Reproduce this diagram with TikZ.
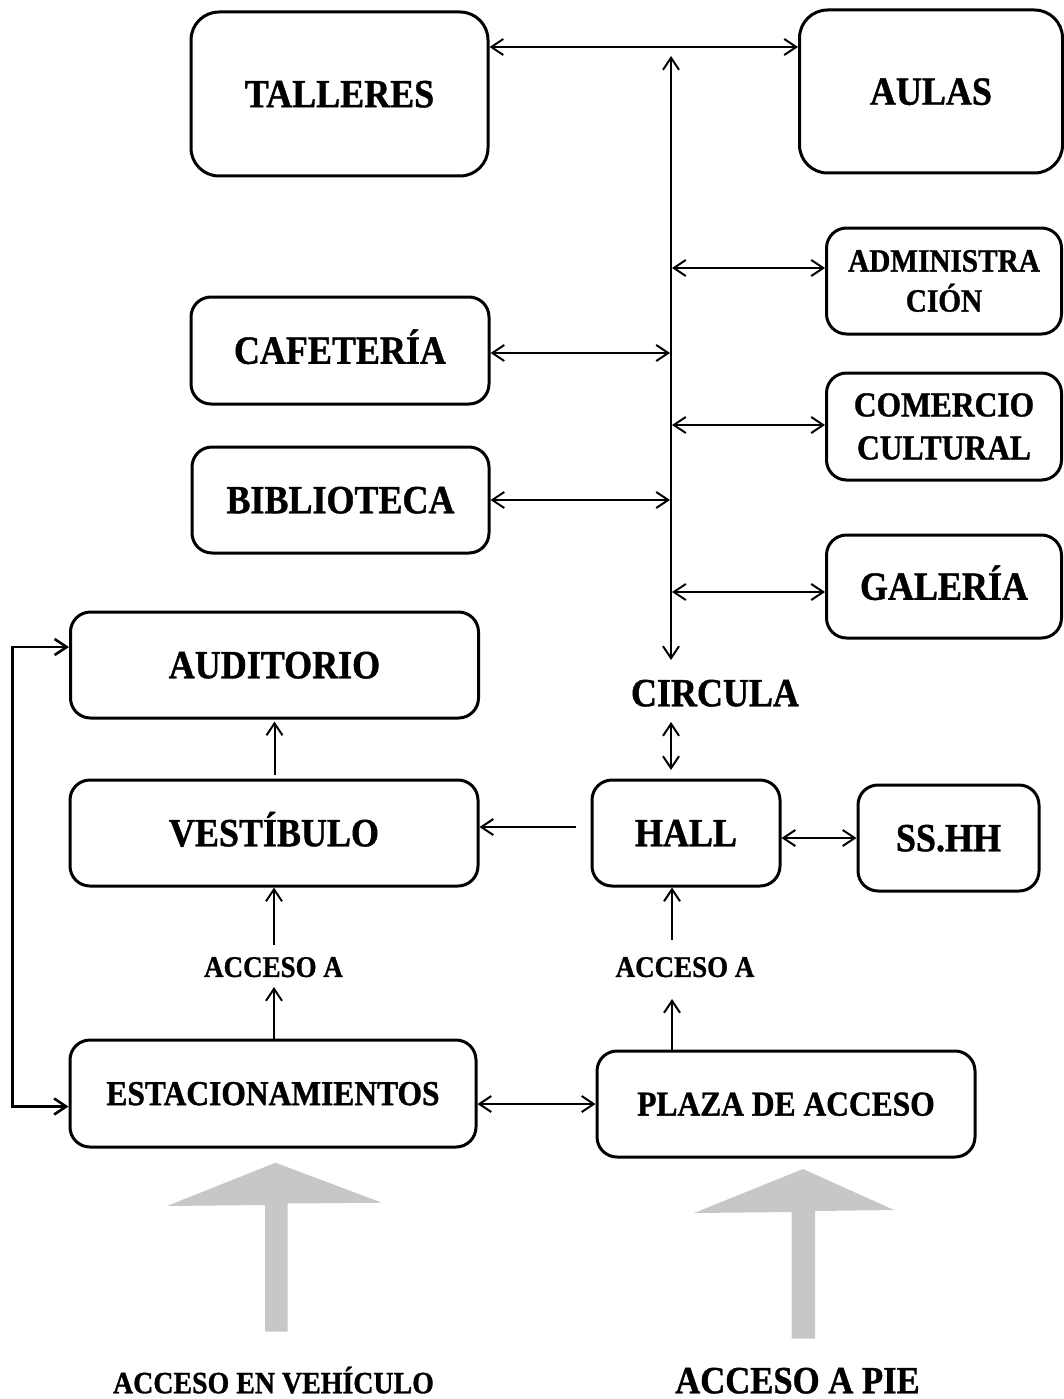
\documentclass[tikz,border=0pt]{standalone}
\usepackage{fontspec}
\setmainfont{Liberation Serif}[FakeStretch=0.9, BoldFeatures={FakeBold=1}]
\usetikzlibrary{arrows.meta}
\newcommand{\myfs}[2]{\fontsize{#1}{#2}\selectfont\bfseries}
\begin{document}
\begin{tikzpicture}[x=1pt,y=-1pt,
  >={Straight Barb[length=12pt,width=16pt]},
  box/.style={draw, line width=3pt, rounded corners=20pt, inner sep=0pt, align=center},
  bigtxt/.style={font=\myfs{40}{40}, text height=26.5pt, text depth=0pt},
  midtxt/.style={font=\myfs{35}{35}, text height=23.2pt, text depth=0pt},
  conn/.style={line width=2pt},
  loopline/.style={line width=2.6pt},
  lbl/.style={inner sep=0pt},
  grayarrow/.style={fill=black!22, draw=none}]
\useasboundingbox (0,0) rectangle (1064,1399);

% boxes
\node[box, bigtxt, rounded corners=28pt, minimum width=297pt, minimum height=164pt] (tall) at (339.5,94) {TALLERES};
\node[box, bigtxt, rounded corners=28pt, minimum width=263pt, minimum height=163pt] (aulas) at (931,91.5) {AULAS};
\node[box, font=\myfs{32.5}{40}, minimum width=235pt, minimum height=106pt] (admin) at (944,281) {ADMINISTRA\\CIÓN};
\node[box, font=\myfs{35}{43}, minimum width=235pt, minimum height=107pt] (comer) at (944,426.5) {COMERCIO\\CULTURAL};
\node[box, bigtxt, minimum width=235pt, minimum height=103pt] (gal) at (944,586.5) {GALERÍA};
\node[box, bigtxt, minimum width=298pt, minimum height=107pt] (cafe) at (340,350.5) {CAFETERÍA};
\node[box, bigtxt, minimum width=297pt, minimum height=106pt] (bibl) at (340.5,500) {BIBLIOTECA};
\node[box, bigtxt, minimum width=408pt, minimum height=106pt] (audi) at (274.5,665) {AUDITORIO};
\node[box, bigtxt, minimum width=408pt, minimum height=106pt] (vest) at (274,833) {VESTÍBULO};
\node[box, bigtxt, minimum width=188pt, minimum height=106pt] (hall) at (686,833) {HALL};
\node[box, bigtxt, minimum width=181pt, minimum height=106pt] (sshh) at (948.5,838) {SS.HH};
\node[box, midtxt, minimum width=406pt, minimum height=107pt] (esta) at (273,1093.5) {ESTACIONAMIENTOS};
\node[box, midtxt, minimum width=378pt, minimum height=106pt] (plaza) at (786,1104) {PLAZA DE ACCESO};

% free labels
\node[lbl, bigtxt] (circ) at (715,693) {CIRCULA};
\node[lbl, font=\myfs{30}{30}, text height=19.9pt, text depth=0pt] (acc1) at (273.5,967) {ACCESO A};
\node[lbl, font=\myfs{30}{30}, text height=19.9pt, text depth=0pt] (acc2) at (685,967) {ACCESO A};
\node[lbl, font=\myfs{31}{31}, text height=20.5pt, text depth=0pt] (veh) at (273.5,1383) {ACCESO EN VEHÍCULO};
\node[lbl, font=\myfs{38.5}{38.5}, text height=25.5pt, text depth=0pt] (pie) at (797.5,1380.5) {ACCESO A PIE};

% coordinates
\coordinate (y47) at (0,47);
\coordinate (sp1) at (671,56);
\coordinate (sp2) at (671,660);
\coordinate (r1) at (672,268);
\coordinate (r2) at (672,425);
\coordinate (r3) at (672,592);
\coordinate (l1) at (670,353);
\coordinate (l2) at (670,500);
\coordinate (c1) at (671,722);
\coordinate (c2) at (671,770);
\coordinate (h1) at (576,827);
\coordinate (s1) at (0,838);
\coordinate (v1) at (274.5,775);
\coordinate (q1) at (274,987);
\coordinate (q2) at (274,945);
\coordinate (p1) at (672,999);
\coordinate (p2) at (672,940);
\coordinate (e1) at (0,1104);
\coordinate (k1) at (12.7,647);
\coordinate (k2) at (12.7,1106.5);

% connectors
\draw[conn,<->] (tall.east |- y47) -- (aulas.west |- y47);
\draw[conn,<->] (sp1) -- (sp2);
\draw[conn,<->] (r1) -- (r1 -| admin.west);
\draw[conn,<->] (r2) -- (r2 -| comer.west);
\draw[conn,<->] (r3) -- (r3 -| gal.west);
\draw[conn,<->] (cafe.east |- l1) -- (l1);
\draw[conn,<->] (bibl.east |- l2) -- (l2);
\draw[conn,<->] (c1) -- (c2);
\draw[conn,->] (h1) -- (h1 -| vest.east);
\draw[conn,<->] (hall.east |- s1) -- (sshh.west |- s1);
\draw[conn,->,shorten >=2pt] (v1) -- (v1 |- audi.south);
\draw[conn,->] (esta.north -| q1) -- (q1);
\draw[conn,->] (q2) -- (q2 |- vest.south);
\draw[conn,->] (plaza.north -| p1) -- (p1);
\draw[conn,->] (p2) -- (p2 |- hall.south);
\draw[conn,<->] (esta.east |- e1) -- (plaza.west |- e1);
\draw[loopline,<->] (k1 -| audi.west) -- (k1) -- (k2) -- (k2 -| esta.west);

% big gray arrows
\fill[grayarrow] (167,1206) -- (275.5,1162.7) -- (382,1202.7) -- (287.6,1203.5) -- (287.6,1331.7) -- (265,1331.7) -- (265,1205) -- cycle;
\fill[grayarrow] (694,1213) -- (803,1169) -- (894,1210) -- (815,1211) -- (815,1338.7) -- (791.6,1338.7) -- (791.6,1212) -- cycle;
\end{tikzpicture}
\end{document}
